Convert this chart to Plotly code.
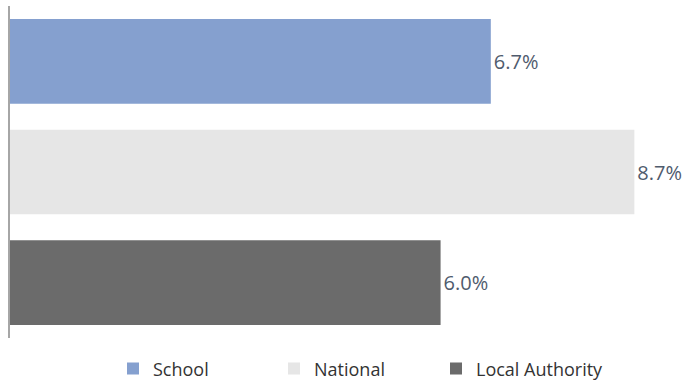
import plotly.graph_objects as go

categories = ["School", "National", "Local Authority"]
values = [6.7, 8.7, 6.0]
labels = ["6.7%", "8.7%", "6.0%"]
colors = ["#85a0cf", "#e6e6e6", "#6b6b6b"]

# one small legend per series so each entry can sit at its own spot
legend_ids = ["legend", "legend2", "legend3"]
legend_x = [113, 274, 436]

W, H = 691, 385

fig = go.Figure()
for cat, val, lab, col, lid in zip(categories, values, labels, colors, legend_ids):
    fig.add_trace(go.Bar(
        y=[cat], x=[val], name=cat, orientation="h",
        marker=dict(color=col, line=dict(width=0)),
        text=[lab], textposition="outside", cliponaxis=False,
        constraintext="none",
        textfont=dict(family="Open Sans", size=20, color="#4f5b6d"),
        hoverinfo="skip", legend=lid,
    ))

legend_style = dict(orientation="h", xanchor="left", yref="container", xref="container",
                    y=0.042, yanchor="middle", itemwidth=30,
                    bgcolor="rgba(0,0,0,0)",
                    font=dict(family="Open Sans", size=18, color="#333333"))

fig.update_layout(
    width=W, height=H,
    margin=dict(l=10, r=10, t=6, b=47),
    paper_bgcolor="white", plot_bgcolor="white",
    barmode="overlay", bargap=0.235,
    font=dict(family="Open Sans", size=18, color="#333333"),
    xaxis=dict(range=[0, 9.35], visible=False, fixedrange=True),
    yaxis=dict(autorange="reversed", showticklabels=False, ticks="",
               showgrid=False, zeroline=False,
               showline=True, linecolor="#a6a6a6", linewidth=2),
    showlegend=True,
)
for lid, lx in zip(legend_ids, legend_x):
    fig.update_layout({lid: dict(legend_style, x=lx / W)})

fig.write_html("out.html")
